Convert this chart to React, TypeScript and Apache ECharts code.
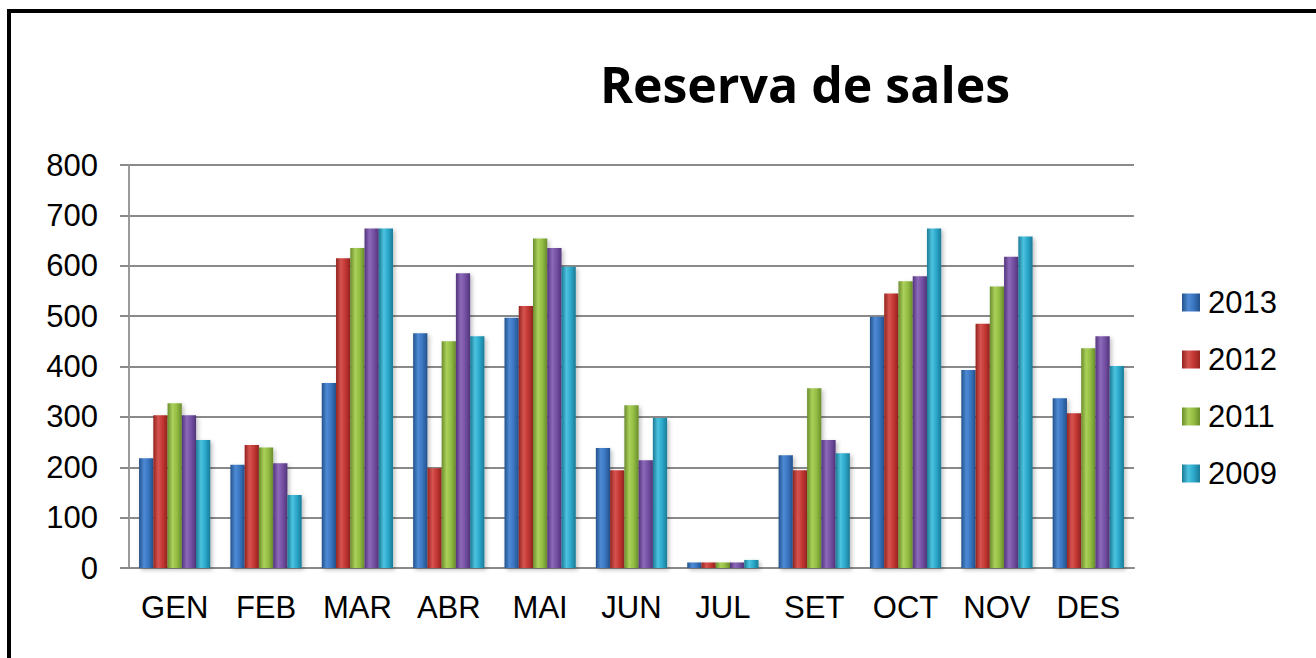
import React, { useEffect, useRef } from "react";
import * as echarts from "echarts";

const months = ["GEN", "FEB", "MAR", "ABR", "MAI", "JUN", "JUL", "SET", "OCT", "NOV", "DES"];
const yTicks = [0, 100, 200, 300, 400, 500, 600, 700, 800];
const legendNames = ["2013", "2012", "2011", "2009"];

const s2013 = [218, 205, 367, 466, 497, 238, 11, 224, 499, 393, 337];
const s2012 = [303, 244, 615, 198, 520, 194, 11, 194, 545, 485, 307];
const s2011 = [327, 239, 635, 450, 654, 323, 11, 357, 569, 559, 436];
const s2010 = [303, 208, 674, 585, 635, 214, 11, 254, 579, 618, 460];
const s2009 = [254, 145, 674, 460, 598, 298, 16, 228, 674, 658, 401];

const seriesDefs = [
  { name: "2013", data: s2013, dark: "#22528c", mid: "#3a75c0", light: "#4f8ad4" },
  { name: "2012", data: s2012, dark: "#93231f", mid: "#c33733", light: "#d65450" },
  { name: "2011", data: s2011, dark: "#6a8d2c", mid: "#93bd43", light: "#abd05b" },
  { name: "2010", data: s2010, dark: "#52347c", mid: "#7551a3", light: "#8d69ba" },
  { name: "2009", data: s2009, dark: "#1b7a96", mid: "#2ba8ca", light: "#4cc3df" },
];

function grad(d: { dark: string; mid: string; light: string }) {
  return new echarts.graphic.LinearGradient(0, 0, 1, 0, [
    { offset: 0, color: d.dark },
    { offset: 0.35, color: d.light },
    { offset: 0.65, color: d.mid },
    { offset: 1, color: d.dark },
  ]);
}

export default function App() {
  const ref = useRef<HTMLDivElement>(null);
  useEffect(() => {
    if (!ref.current) return;
    const chart = echarts.init(ref.current, null, { renderer: "svg" });
    const axisFont = "'Liberation Sans', Arial, sans-serif";
    chart.setOption({
      animation: false,
      backgroundColor: "#ffffff",
      graphic: [
        { type: "rect", shape: { x: 7, y: 9, width: 4, height: 700 }, style: { fill: "#000" } },
        { type: "rect", shape: { x: 7, y: 9, width: 1400, height: 4 }, style: { fill: "#000" } },
        {
          type: "text",
          x: 805,
          y: 84,
          style: {
            text: "Reserva de sales",
            fontFamily: "'Open Sans', sans-serif",
            fontWeight: "bold",
            fontSize: 50,
            fill: "#000",
            textAlign: "center",
            textVerticalAlign: "middle",
          },
        },
      ],
      legend: {
        data: legendNames,
        orient: "vertical",
        left: 1182,
        top: 287,
        padding: 0,
        itemWidth: 18,
        itemHeight: 18,
        itemGap: 26,
        icon: "rect",
        textStyle: {
          fontFamily: axisFont,
          fontSize: 31,
          lineHeight: 31,
          color: "#000",
          padding: [0, 0, 0, 3],
        },
      },
      grid: { left: 129, right: 182, top: 165, bottom: 90 },
      xAxis: {
        type: "category",
        data: months,
        axisLine: { lineStyle: { color: "#8a8a8a", width: 2 } },
        axisTick: { show: false },
        axisLabel: { fontFamily: axisFont, fontSize: 31, color: "#000", margin: 24 },
      },
      yAxis: {
        type: "value",
        min: yTicks[0],
        max: yTicks[yTicks.length - 1],
        interval: 100,
        axisLine: { show: true, lineStyle: { color: "#9a9a9a", width: 2 } },
        axisTick: { show: true, length: 9, lineStyle: { color: "#8a8a8a", width: 2 } },
        splitLine: { lineStyle: { color: "#8a8a8a", width: 2 } },
        axisLabel: { fontFamily: axisFont, fontSize: 31, color: "#000", margin: 31 },
      },
      series: seriesDefs.map((d) => ({
        name: d.name,
        type: "bar",
        data: d.data,
        barGap: "0%",
        barCategoryGap: "22%",
        itemStyle: {
          color: grad(d),
          shadowBlur: 4,
          shadowColor: "rgba(0,0,0,0.25)",
          shadowOffsetX: 2,
          shadowOffsetY: 2,
        },
      })),
    });
    return () => chart.dispose();
  }, []);
  return (
    <div
      ref={ref}
      style={{ position: "absolute", left: 0, top: 0, width: 1316, height: 658 }}
    />
  );
}
